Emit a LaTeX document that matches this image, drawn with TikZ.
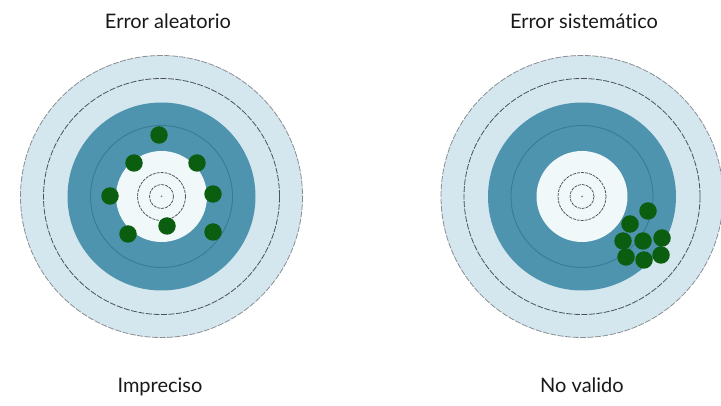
\documentclass[tikz,border=0pt]{standalone}
\usepackage{fontspec}
\setmainfont{Lato}[Ligatures=NoCommon]
\definecolor{lightring}{HTML}{D5E7EE}
\definecolor{darkring}{HTML}{4F94AE}
\definecolor{darkline}{HTML}{3A7A94}
\definecolor{centre}{HTML}{F1F8FA}
\definecolor{shot}{HTML}{0B5D10}
\definecolor{ringline}{HTML}{4A535A}
\tikzset{
  ringdash/.style={draw=ringline, line width=0.8pt, dash pattern=on 6pt off 1.5pt},
  innerdash/.style={draw=ringline, line width=0.75pt, dash pattern=on 3pt off 1pt},
  hit/.style={circle, fill=shot, inner sep=0pt, minimum size=17.5pt},
  caption/.style={font=\fontsize{20}{24}\selectfont, text=black!90, anchor=base},
}
\begin{document}
\begin{tikzpicture}[x=1pt,y=-1pt]
\useasboundingbox (0,0) rectangle (721,406);
\fill[white] (0,0) rectangle (721,406);
% targets
\foreach \cx/\cy in {161.5/196.5, 582/196.5}{
  \fill[lightring] (\cx,\cy) circle (141);
  \draw[ringdash, draw=ringline!65] (\cx,\cy) circle (141);
  \draw[ringdash] (\cx,\cy) circle (118);
  \fill[darkring] (\cx,\cy) circle (94);
  \draw[darkline, line width=0.9pt] (\cx,\cy) circle (71);
  \fill[centre] (\cx,\cy) circle (45.5);
  \draw[innerdash] (\cx,\cy) circle (24);
  \draw[innerdash] (\cx,\cy) circle (12);
  \fill[ringline!70] (\cx,\cy) circle (1);
}
% left shots
\node[hit] (a1) at (159,135) {};
\node[hit] (a2) at (134,163) {};
\node[hit] (a3) at (197,163) {};
\node[hit] (a4) at (110,196) {};
\node[hit] (a5) at (213,194) {};
\node[hit] (a6) at (167,226) {};
\node[hit] (a7) at (128,234) {};
\node[hit] (a8) at (213,232) {};
% right shots
\node[hit] (b1) at (648,211) {};
\node[hit] (b2) at (630,224) {};
\node[hit] (b3) at (623,241) {};
\node[hit] (b4) at (643,241) {};
\node[hit] (b5) at (662,238) {};
\node[hit] (b6) at (626,257) {};
\node[hit] (b7) at (644,260) {};
\node[hit] (b8) at (661,255) {};
% captions
\node[caption] (t1) at (168,29) {Error aleatorio};
\node[caption] (t2) at (584,29) {Error sistemático};
\node[caption] (t3) at (160,392) {Impreciso};
\node[caption] (t4) at (582,392) {No valido};
\end{tikzpicture}
\end{document}
